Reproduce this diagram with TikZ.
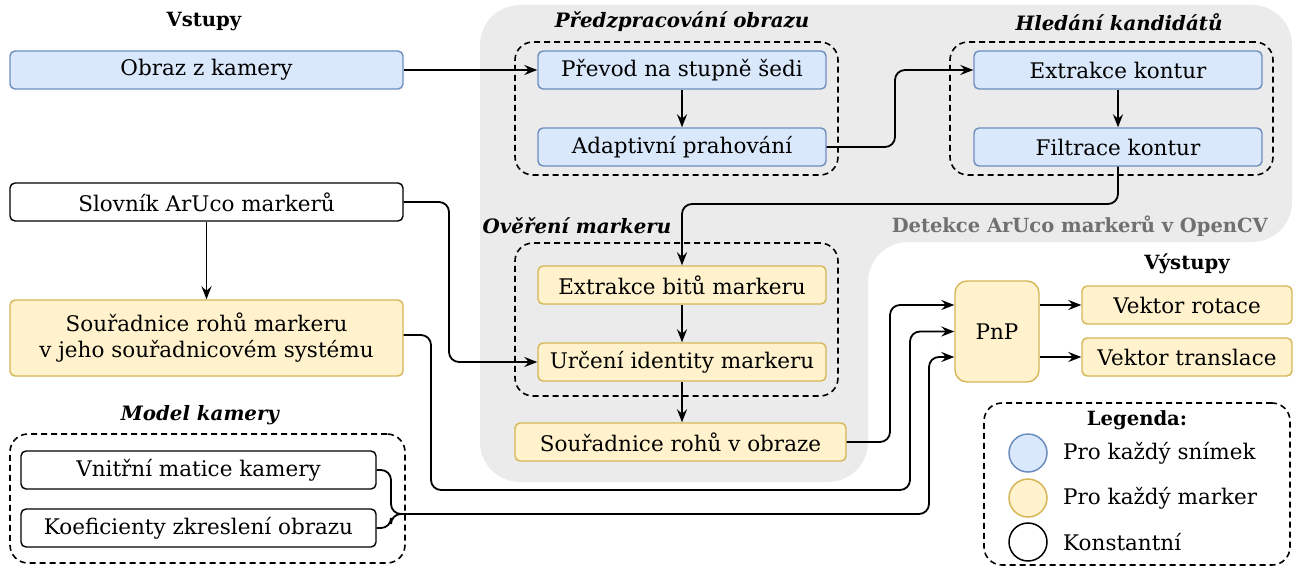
\documentclass[tikz,border=0pt]{standalone}
\usepackage{fontspec}
\setmainfont{DejaVu Serif}
\usetikzlibrary{arrows.meta,calc}

\definecolor{blueFill}{HTML}{DAE8FC}
\definecolor{blueLine}{HTML}{6C8EBF}
\definecolor{yellowFill}{HTML}{FFF2CC}
\definecolor{yellowLine}{HTML}{D6B656}
\definecolor{regionGray}{HTML}{EBEBEB}
\definecolor{regionText}{HTML}{707070}

\tikzset{
  x=1pt, y=-1pt,
  every node/.style={font=\fontsize{21.5}{26}\selectfont, inner sep=0pt},
  box/.style={draw, rounded corners=5pt, line width=1.4pt, align=center},
  frame/.style={box, fill=white, draw=black},
  perframe/.style={box, fill=blueFill, draw=blueLine},
  permarker/.style={box, fill=yellowFill, draw=yellowLine},
  group/.style={draw, dash pattern=on 6pt off 4pt, line width=1.6pt, rounded corners=18pt},
  heading/.style={font=\fontsize{19.6}{24}\selectfont\bfseries},
  grouptitle/.style={font=\fontsize{19.8}{24}\selectfont\bfseries\itshape},
  conn/.style={draw, line width=1.8pt, rounded corners=10pt,
    -{Stealth[length=13pt, width=10pt, inset=4.5pt]}},
  link/.style={draw, line width=1.8pt, rounded corners=10pt},
  swatch/.style={circle, minimum size=38pt, line width=1.5pt, draw},
}

\begin{document}
\begin{tikzpicture}
\useasboundingbox (0,0) rectangle (1297,567);

% OpenCV detection region
\fill[regionGray, rounded corners=40pt]
  (480,5) -- (1292,5) -- (1292,242) -- (868,242) -- (868,482) -- (480,482) -- cycle;
\node[font=\fontsize{19.5}{24}\selectfont\bfseries, text=regionText, anchor=east] (regionlabel) at (1268,226) {Detekce ArUco markerů v OpenCV};

% Inputs
\node[heading] (inputs) at (204,22) {Vstupy};
\node[perframe, minimum width=393pt, minimum height=38pt] (camera) at (206.5,70) {Obraz z kamery};
\node[frame, minimum width=393pt, minimum height=38pt] (dict) at (206.5,202) {Slovník ArUco markerů};
\node[permarker, minimum width=393pt, minimum height=76pt] (markercorners) at (206.5,338)
  {Souřadnice rohů markeru\\v jeho souřadnicovém systému};

% Camera model
\node[grouptitle] (modeltitle) at (200,415) {Model kamery};
\node[group, minimum width=395pt, minimum height=129pt] (modelgroup) at (207.5,498.5) {};
\node[frame, minimum width=355pt, minimum height=38pt] (intrinsic) at (198.5,470) {Vnitřní matice kamery};
\node[frame, minimum width=355pt, minimum height=38pt] (distortion) at (198.5,528) {Koeficienty zkreslení obrazu};

% Preprocessing
\node[grouptitle] (preTitle) at (682,22) {Předzpracování obrazu};
\node[group, minimum width=323pt, minimum height=133pt] (preGroup) at (676.5,108.5) {};
\node[perframe, minimum width=288pt, minimum height=38pt] (gray) at (682,70) {Převod na stupně šedi};
\node[perframe, minimum width=288pt, minimum height=38pt] (thresh) at (682,147) {Adaptivní prahování};

% Candidate search
\node[grouptitle] (candTitle) at (1119,22) {Hledání kandidátů};
\node[group, minimum width=323pt, minimum height=133pt] (candGroup) at (1111.5,108.5) {};
\node[perframe, minimum width=288pt, minimum height=38pt] (contours) at (1118,70) {Extrakce kontur};
\node[perframe, minimum width=288pt, minimum height=38pt] (filter) at (1118,147) {Filtrace kontur};

% Marker verification
\node[grouptitle] (verTitle) at (577,226) {Ověření markeru};
\node[group, minimum width=323pt, minimum height=153pt] (verGroup) at (676.5,319.5) {};
\node[permarker, minimum width=288pt, minimum height=38pt] (bits) at (682,285) {Extrakce bitů markeru};
\node[permarker, minimum width=288pt, minimum height=38pt] (identity) at (682,362) {Určení identity markeru};
\node[permarker, minimum width=331pt, minimum height=38pt] (imgcorners) at (680.5,442) {Souřadnice rohů v obraze};

% Pose estimation and outputs
\node[permarker, rounded corners=12pt, minimum width=84pt, minimum height=101pt] (pnp) at (997,331.5) {PnP};
\node[heading] (outputs) at (1187,264) {Výstupy};
\node[permarker, minimum width=210pt, minimum height=38pt] (rvec) at (1187,305) {Vektor rotace};
\node[permarker, minimum width=210pt, minimum height=38pt] (tvec) at (1187,357) {Vektor translace};

% Legend
\node[group, minimum width=306pt, minimum height=162pt] (legend) at (1137,484) {};
\node[heading] (legendTitle) at (1137,420) {Legenda:};
\node[swatch, fill=blueFill, draw=blueLine] (swA) at (1028,453) {};
\node[swatch, fill=yellowFill, draw=yellowLine] (swB) at (1028,498) {};
\node[swatch, fill=white, draw=black] (swC) at (1028,542) {};
\node[anchor=west] (legA) at (1063,453) {Pro každý snímek};
\node[anchor=west] (legB) at (1063,498) {Pro každý marker};
\node[anchor=west] (legC) at (1063,542) {Konstantní};

% Routing columns
\coordinate (colA) at (895,0);
\coordinate (colB) at (449,0);
\coordinate (colC) at (890,0);
\coordinate (colD) at (431,0);
\coordinate (colE) at (910,0);
\coordinate (colF) at (391,0);
\coordinate (colG) at (929,0);
\coordinate (rowA) at (0,204);
\coordinate (rowB) at (0,490);
\coordinate (rowC) at (0,514);

% Connectors
\draw[conn] (camera.east) -- (gray.west);
\draw[conn] (gray.south) -- (thresh.north);
\draw[conn] (thresh.east) -| (colA |- contours.west) -- (contours.west);
\draw[conn] (contours.south) -- (filter.north);
\draw[conn] (filter.south) |- (bits.north |- rowA) -- (bits.north);
\draw[conn] (bits.south) -- (identity.north);
\draw[conn] (dict.east) -| (colB |- identity.west) -- (identity.west);
\draw[conn] (dict.south) -- (markercorners.north);
\draw[conn] (identity.south) -- (identity.south |- imgcorners.north);
\draw[conn] (imgcorners.east) -| (colC |- rvec.west) -- (pnp.west |- rvec.west);
\draw[conn] (markercorners.east |- 0,335) -| (colD |- rowB) -| (colE |- pnp.west) -- (pnp.west);
\draw[link] (intrinsic.east) -| (colF |- rowC) -- ([xshift=12pt]colF |- rowC);
\draw[conn] (distortion.east) -| (colF |- rowC) -| (colG |- tvec.west) -- (pnp.west |- tvec.west);
\draw[conn] (pnp.east |- rvec.west) -- (rvec.west);
\draw[conn] (pnp.east |- tvec.west) -- (tvec.west);
\end{tikzpicture}
\end{document}
